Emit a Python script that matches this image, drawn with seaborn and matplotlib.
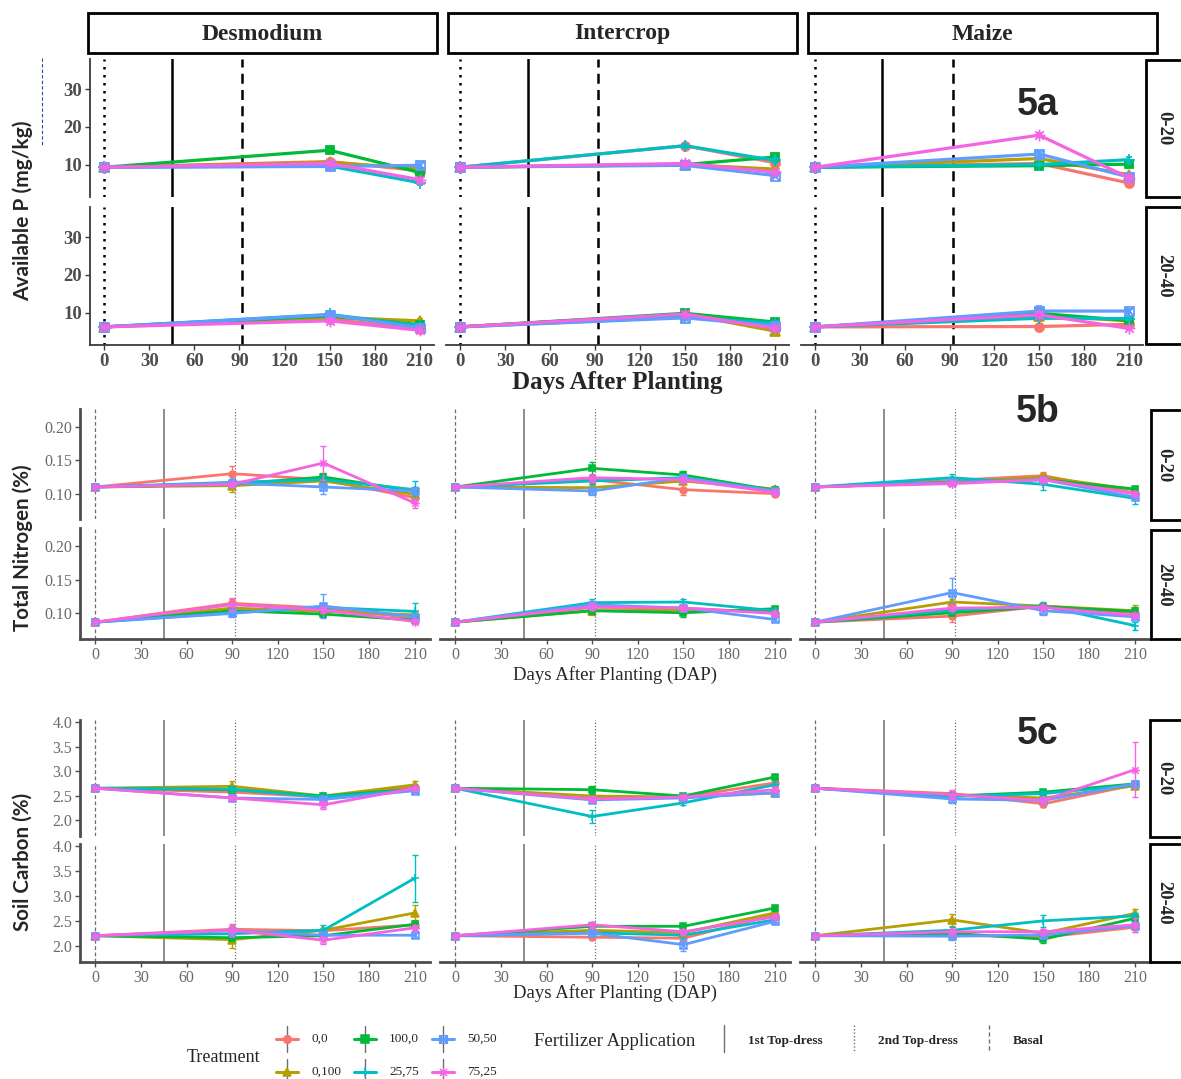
import matplotlib
matplotlib.use("Agg")
import matplotlib.pyplot as plt
import pandas as pd
import seaborn as sns
from matplotlib.path import Path
from matplotlib.patches import Rectangle
from matplotlib.lines import Line2D

sns.set_style("ticks")
plt.rcParams["font.family"] = ["Liberation Serif", "DejaVu Serif"]

W, H = 1181, 1079

# ---------------------------------------------------------------- data
TREATMENTS = ["0,0", "0,100", "100,0", "25,75", "50,50", "75,25"]
SYSTEMS = ["Desmodium", "Intercrop", "Maize"]
DEPTHS = ["0-20", "20-40"]
DAYS_P = [0, 150, 210]
DAYS_NC = [0, 90, 150, 210]

# Available P (mg/kg); one row per treatment, one column per sampling day
p_desmodium_0_20 = [[9.3, 10.8, 8.4], [9.3, 10.6, 8.9], [9.3, 13.8, 7.9],
                    [9.3, 9.6, 5.2], [9.3, 9.5, 9.8], [9.3, 10.3, 6.0]]
p_desmodium_20_40 = [[6.2, 8.3, 5.7], [6.2, 8.8, 7.8], [6.2, 9.1, 6.8],
                     [6.2, 9.5, 6.5], [6.2, 9.4, 6.0], [6.2, 7.8, 5.3]]
p_intercrop_0_20 = [[9.3, 15.0, 10.5], [9.3, 10.0, 8.8], [9.3, 10.0, 12.0],
                    [9.3, 15.0, 11.1], [9.3, 9.8, 7.1], [9.3, 10.3, 8.0]]
p_intercrop_20_40 = [[6.2, 9.5, 5.6], [6.2, 9.6, 5.1], [6.2, 9.8, 7.5],
                     [6.2, 8.8, 7.2], [6.2, 8.6, 6.5], [6.2, 9.6, 5.8]]
p_maize_0_20 = [[9.3, 10.3, 5.1], [9.3, 11.6, 7.3], [9.3, 9.7, 10.1],
                [9.3, 10.0, 11.3], [9.3, 12.8, 6.7], [9.3, 17.8, 6.5]]
p_maize_20_40 = [[6.2, 6.3, 6.9], [6.2, 9.2, 7.8], [6.2, 9.8, 7.9],
                 [6.2, 8.5, 8.4], [6.2, 10.4, 10.4], [6.2, 9.4, 5.8]]

p_desmodium_0_20_se = [[0.3, 0.5, 0.5], [0.3, 0.4, 0.4], [0.3, 0.6, 0.5],
                       [0.3, 0.4, 0.6], [0.3, 0.6, 0.9], [0.3, 0.4, 0.5]]
p_desmodium_20_40_se = [[0.2, 0.4, 0.4], [0.2, 0.4, 0.6], [0.2, 0.5, 0.4],
                        [0.2, 0.6, 0.5], [0.2, 0.5, 0.4], [0.2, 0.6, 0.4]]
p_intercrop_0_20_se = [[0.3, 0.6, 0.5], [0.3, 0.4, 0.4], [0.3, 0.4, 0.6],
                       [0.3, 0.5, 0.6], [0.3, 0.6, 0.5], [0.3, 0.5, 0.4]]
p_intercrop_20_40_se = [[0.2, 0.5, 0.4], [0.2, 0.4, 0.4], [0.2, 0.5, 0.5],
                        [0.2, 0.5, 0.5], [0.2, 0.6, 0.4], [0.2, 0.5, 0.4]]
p_maize_0_20_se = [[0.3, 0.4, 0.4], [0.3, 0.5, 0.5], [0.3, 0.5, 0.5],
                   [0.3, 0.4, 0.8], [0.3, 0.7, 0.5], [0.3, 0.5, 0.5]]
p_maize_20_40_se = [[0.2, 0.4, 0.4], [0.2, 0.5, 0.5], [0.2, 0.5, 0.5],
                    [0.2, 0.6, 0.5], [0.2, 1.4, 0.6], [0.2, 0.7, 0.5]]

# Total nitrogen (%)
n_desmodium_0_20 = [[0.110, 0.130, 0.121, 0.094], [0.110, 0.112, 0.119, 0.099],
                    [0.110, 0.114, 0.125, 0.104], [0.110, 0.117, 0.121, 0.106],
                    [0.110, 0.116, 0.110, 0.104], [0.110, 0.114, 0.146, 0.086]]
n_desmodium_20_40 = [[0.087, 0.115, 0.108, 0.093], [0.087, 0.108, 0.103, 0.098],
                     [0.087, 0.104, 0.099, 0.090], [0.087, 0.101, 0.109, 0.103],
                     [0.087, 0.100, 0.111, 0.095], [0.087, 0.113, 0.105, 0.088]]
n_intercrop_0_20 = [[0.110, 0.121, 0.106, 0.100], [0.110, 0.109, 0.119, 0.107],
                    [0.110, 0.138, 0.128, 0.105], [0.110, 0.119, 0.124, 0.104],
                    [0.110, 0.104, 0.124, 0.104], [0.110, 0.124, 0.121, 0.102]]
n_intercrop_20_40 = [[0.087, 0.109, 0.108, 0.101], [0.087, 0.104, 0.105, 0.104],
                     [0.087, 0.104, 0.101, 0.107], [0.087, 0.116, 0.117, 0.104],
                     [0.087, 0.113, 0.108, 0.091], [0.087, 0.110, 0.108, 0.100]]
n_maize_0_20 = [[0.110, 0.120, 0.127, 0.101], [0.110, 0.117, 0.125, 0.106],
                [0.110, 0.117, 0.121, 0.107], [0.110, 0.124, 0.114, 0.093],
                [0.110, 0.117, 0.121, 0.095], [0.110, 0.115, 0.121, 0.100]]
n_maize_20_40 = [[0.087, 0.096, 0.111, 0.101], [0.087, 0.117, 0.111, 0.104],
                 [0.087, 0.101, 0.110, 0.103], [0.087, 0.105, 0.111, 0.082],
                 [0.087, 0.131, 0.104, 0.095], [0.087, 0.108, 0.109, 0.097]]

n_desmodium_0_20_se = [[.002, .012, .006, .004], [.002, .010, .004, .004],
                       [.002, .004, .006, .006], [.002, .004, .005, .013],
                       [.002, .006, .010, .005], [.002, .004, .025, .008]]
n_desmodium_20_40_se = [[.002, .006, .004, .004], [.002, .005, .004, .004],
                        [.002, .004, .004, .004], [.002, .004, .006, .013],
                        [.002, .006, .018, .004], [.002, .010, .004, .004]]
n_intercrop_0_20_se = [[.002, .005, .008, .004], [.002, .004, .004, .004],
                       [.002, .010, .006, .004], [.002, .005, .006, .004],
                       [.002, .006, .005, .004], [.002, .005, .004, .004]]
n_intercrop_20_40_se = [[.002, .006, .004, .004], [.002, .006, .004, .004],
                        [.002, .005, .006, .004], [.002, .005, .005, .004],
                        [.002, .006, .005, .004], [.002, .005, .004, .004]]
n_maize_0_20_se = [[.002, .004, .005, .004], [.002, .004, .004, .004],
                   [.002, .004, .004, .004], [.002, .006, .008, .008],
                   [.002, .004, .004, .004], [.002, .004, .004, .004]]
n_maize_20_40_se = [[.002, .008, .004, .004], [.002, .004, .004, .008],
                    [.002, .004, .004, .006], [.002, .004, .006, .006],
                    [.002, .022, .006, .004], [.002, .004, .004, .004]]

# Soil carbon (%)
c_desmodium_0_20 = [[2.65, 2.57, 2.47, 2.67], [2.65, 2.69, 2.49, 2.72],
                    [2.65, 2.62, 2.49, 2.63], [2.65, 2.63, 2.47, 2.62],
                    [2.65, 2.45, 2.42, 2.60], [2.65, 2.45, 2.31, 2.65]]
c_desmodium_20_40 = [[2.20, 2.33, 2.30, 2.42], [2.20, 2.12, 2.31, 2.66],
                     [2.20, 2.16, 2.20, 2.43], [2.20, 2.24, 2.31, 3.36],
                     [2.20, 2.30, 2.21, 2.21], [2.20, 2.31, 2.11, 2.36]]
c_intercrop_0_20 = [[2.65, 2.45, 2.47, 2.76], [2.65, 2.49, 2.47, 2.55],
                    [2.65, 2.62, 2.49, 2.88], [2.65, 2.07, 2.35, 2.72],
                    [2.65, 2.41, 2.45, 2.56], [2.65, 2.43, 2.47, 2.62]]
c_intercrop_20_40 = [[2.20, 2.17, 2.15, 2.62], [2.20, 2.31, 2.26, 2.66],
                     [2.20, 2.39, 2.39, 2.76], [2.20, 2.26, 2.21, 2.52],
                     [2.20, 2.25, 2.02, 2.49], [2.20, 2.42, 2.28, 2.58]]
c_maize_0_20 = [[2.65, 2.54, 2.33, 2.72], [2.65, 2.52, 2.45, 2.70],
                [2.65, 2.49, 2.57, 2.74], [2.65, 2.48, 2.54, 2.72],
                [2.65, 2.43, 2.40, 2.74], [2.65, 2.52, 2.40, 3.03]]
c_maize_20_40 = [[2.20, 2.21, 2.17, 2.37], [2.20, 2.52, 2.25, 2.65],
                 [2.20, 2.25, 2.13, 2.55], [2.20, 2.31, 2.50, 2.60],
                 [2.20, 2.19, 2.22, 2.40], [2.20, 2.28, 2.28, 2.42]]

c_desmodium_0_20_se = [[.03, .06, .04, .05], [.03, .10, .04, .08], [.03, .05, .06, .05],
                       [.03, .05, .05, .05], [.03, .06, .04, .05], [.03, .05, .08, .05]]
c_desmodium_20_40_se = [[.02, .08, .06, .05], [.02, .16, .05, .15], [.02, .06, .05, .05],
                        [.02, .06, .10, .47], [.02, .08, .06, .06], [.02, .12, .07, .05]]
c_intercrop_0_20_se = [[.03, .06, .05, .06], [.03, .05, .04, .05], [.03, .08, .05, .05],
                       [.03, .14, .05, .05], [.03, .06, .05, .05], [.03, .06, .05, .05]]
c_intercrop_20_40_se = [[.02, .06, .06, .05], [.02, .06, .06, .05], [.02, .08, .06, .06],
                        [.02, .06, .06, .05], [.02, .06, .12, .06], [.02, .06, .06, .05]]
c_maize_0_20_se = [[.03, .05, .06, .05], [.03, .05, .05, .05], [.03, .05, .05, .05],
                   [.03, .05, .05, .05], [.03, .08, .05, .05], [.03, .10, .06, .56]]
c_maize_20_40_se = [[.02, .05, .06, .10], [.02, .12, .06, .08], [.02, .05, .08, .06],
                    [.02, .06, .12, .06], [.02, .08, .05, .06], [.02, .05, .05, .14]]

PALETTE = {"0,0": "#F8766D", "0,100": "#B79F00", "100,0": "#00BA38",
           "25,75": "#00BFC4", "50,50": "#619CFF", "75,25": "#F564E3"}

# open square with both diagonals, and an eight-armed asterisk
SQUARE_CROSS = Path(
    [(-1, -1), (1, -1), (1, 1), (-1, 1), (-1, -1), (-1, -1), (1, 1), (-1, 1), (1, -1)],
    [Path.MOVETO, Path.LINETO, Path.LINETO, Path.LINETO, Path.CLOSEPOLY,
     Path.MOVETO, Path.LINETO, Path.MOVETO, Path.LINETO])
ASTERISK = Path(
    [(-1, 0), (1, 0), (0, -1), (0, 1), (-0.72, -0.72), (0.72, 0.72), (-0.72, 0.72), (0.72, -0.72)],
    [Path.MOVETO, Path.LINETO] * 4)
MARKERS = {"0,0": "o", "0,100": "^", "100,0": "s", "25,75": "+",
           "50,50": SQUARE_CROSS, "75,25": ASTERISK}
FILLED = {"0,0": True, "0,100": True, "100,0": True,
          "25,75": False, "50,50": False, "75,25": False}
SIZE_SCALE = {"0,0": 1.0, "0,100": 1.05, "100,0": 0.95,
              "25,75": 1.25, "50,50": 1.0, "75,25": 1.3}


def long_frame(days, tables):
    rows = []
    for (system, depth), (means, errs) in tables.items():
        for trt, m_row, e_row in zip(TREATMENTS, means, errs):
            for d, m, e in zip(days, m_row, e_row):
                rows.append(dict(system=system, depth=depth, treatment=trt,
                                 day=d, value=m, err=e))
    return pd.DataFrame(rows)


phos = long_frame(DAYS_P, {
    ("Desmodium", "0-20"): (p_desmodium_0_20, p_desmodium_0_20_se),
    ("Desmodium", "20-40"): (p_desmodium_20_40, p_desmodium_20_40_se),
    ("Intercrop", "0-20"): (p_intercrop_0_20, p_intercrop_0_20_se),
    ("Intercrop", "20-40"): (p_intercrop_20_40, p_intercrop_20_40_se),
    ("Maize", "0-20"): (p_maize_0_20, p_maize_0_20_se),
    ("Maize", "20-40"): (p_maize_20_40, p_maize_20_40_se)})
nitro = long_frame(DAYS_NC, {
    ("Desmodium", "0-20"): (n_desmodium_0_20, n_desmodium_0_20_se),
    ("Desmodium", "20-40"): (n_desmodium_20_40, n_desmodium_20_40_se),
    ("Intercrop", "0-20"): (n_intercrop_0_20, n_intercrop_0_20_se),
    ("Intercrop", "20-40"): (n_intercrop_20_40, n_intercrop_20_40_se),
    ("Maize", "0-20"): (n_maize_0_20, n_maize_0_20_se),
    ("Maize", "20-40"): (n_maize_20_40, n_maize_20_40_se)})
carbon = long_frame(DAYS_NC, {
    ("Desmodium", "0-20"): (c_desmodium_0_20, c_desmodium_0_20_se),
    ("Desmodium", "20-40"): (c_desmodium_20_40, c_desmodium_20_40_se),
    ("Intercrop", "0-20"): (c_intercrop_0_20, c_intercrop_0_20_se),
    ("Intercrop", "20-40"): (c_intercrop_20_40, c_intercrop_20_40_se),
    ("Maize", "0-20"): (c_maize_0_20, c_maize_0_20_se),
    ("Maize", "20-40"): (c_maize_20_40, c_maize_20_40_se)})

# ---------------------------------------------------------------- layout helpers
fig = plt.figure(figsize=(W / 100, H / 100), dpi=100)
fig.patch.set_facecolor("white")


def px_axes(l, t, r, b):
    return fig.add_axes([l / W, 1 - b / H, (r - l) / W, (b - t) / H])


def fig_text(x, y, s, **kw):
    fig.text(x / W, 1 - y / H, s, **kw)


def fig_box(l, t, r, b, lw=2.0):
    fig.add_artist(Rectangle((l / W, 1 - b / H), (r - l) / W, (b - t) / H,
                             transform=fig.transFigure, facecolor="white",
                             edgecolor="black", linewidth=lw, clip_on=False))


def fig_line(xs, ys, **kw):
    fig.add_artist(Line2D([x / W for x in xs], [1 - y / H for y in ys],
                          transform=fig.transFigure, **kw))


STYLE_A = dict(lw=2.3, ms=6.5, mew=1.3, elw=1.3, cap=2.5,
               spine="#3a3a3a", spine_w=1.3, tick_c="#4d4d4d", tick_size=13.5,
               tick_weight="bold",
               vlines=[(0, "black", 1.8, (0, (1, 2.2))),
                       (45, "black", 1.8, "-"),
                       (92, "black", 1.8, (0, (4, 2.5)))])
STYLE_BC = dict(lw=2.0, ms=5.0, mew=1.1, elw=1.0, cap=2.2,
                spine="#4d4d4d", spine_w=2.0, tick_c="#6a6a6a", tick_size=11.5,
                tick_weight="normal",
                vlines=[(0, "#6e6e6e", 0.9, (0, (3, 2))),
                        (45, "#6e6e6e", 1.1, "-"),
                        (92, "#6e6e6e", 0.9, (0, (1, 1.5)))])

PANELS = [
    dict(frame=phos, style=STYLE_A,
         cols=[(90, 434), (446, 789), (801, 1143)],
         rows=[(59, 197), (207, 345)],
         xlim=(-9.5, 219.5), ylim=(1.4, 38.0), yticks=[10, 20, 30], yfmt="{:.0f}"),
    dict(frame=nitro, style=STYLE_BC,
         cols=[(80, 430), (440, 790), (800, 1150)],
         rows=[(409, 519), (528, 639)],
         xlim=(-10, 220), ylim=(0.062, 0.227), yticks=[0.10, 0.15, 0.20], yfmt="{:.2f}"),
    dict(frame=carbon, style=STYLE_BC,
         cols=[(80, 430), (440, 790), (800, 1150)],
         rows=[(720, 836), (844, 962)],
         xlim=(-10, 220), ylim=(1.67, 4.05), yticks=[2.0, 2.5, 3.0, 3.5, 4.0], yfmt="{:.1f}"),
]


def draw_facet(ax, sub, st):
    for x, c, lw, ls in st["vlines"]:
        ax.axvline(x, color=c, linewidth=lw, linestyle=ls, zorder=1)
    for trt in TREATMENTS:
        d = sub[sub["treatment"] == trt]
        col = PALETTE[trt]
        sns.lineplot(data=d, x="day", y="value", ax=ax, color=col,
                     linewidth=st["lw"], marker=MARKERS[trt],
                     markersize=st["ms"] * SIZE_SCALE[trt],
                     markeredgecolor=col,
                     markerfacecolor=col if FILLED[trt] else "none",
                     markeredgewidth=st["mew"], estimator=None, errorbar=None,
                     legend=False, zorder=3)
        ax.errorbar(d["day"], d["value"], yerr=d["err"], fmt="none", ecolor=col,
                    elinewidth=st["elw"], capsize=st["cap"], capthick=st["elw"],
                    zorder=3)


for panel in PANELS:
    st = panel["style"]
    for ri, (top, bot) in enumerate(panel["rows"]):
        for ci, (left, right) in enumerate(panel["cols"]):
            ax = px_axes(left, top, right, bot)
            ax.set_facecolor("none")
            sub = panel["frame"]
            sub = sub[(sub["system"] == SYSTEMS[ci]) & (sub["depth"] == DEPTHS[ri])]
            draw_facet(ax, sub, st)
            ax.set_xlim(*panel["xlim"])
            ax.set_ylim(*panel["ylim"])
            ax.set_xlabel("")
            ax.set_ylabel("")
            ax.set_xticks([0, 30, 60, 90, 120, 150, 180, 210])
            ax.set_yticks(panel["yticks"])
            ax.set_yticklabels([panel["yfmt"].format(v) for v in panel["yticks"]])
            for s in ("top", "right"):
                ax.spines[s].set_visible(False)
            for s in ("left", "bottom"):
                ax.spines[s].set_color(st["spine"])
                ax.spines[s].set_linewidth(st["spine_w"])
            ax.tick_params(colors=st["spine"], labelcolor=st["tick_c"],
                           labelsize=st["tick_size"], length=3.5, width=1.0, pad=2)
            for lab in ax.get_xticklabels() + ax.get_yticklabels():
                lab.set_fontweight(st["tick_weight"])
            if ci > 0:
                ax.spines["left"].set_visible(False)
                ax.tick_params(axis="y", left=False, labelleft=False)
            if ri == 0:
                ax.spines["bottom"].set_visible(False)
                ax.tick_params(axis="x", bottom=False, labelbottom=False)

# ---------------------------------------------------------------- strips
for l, r, name in [(88, 437, "Desmodium"), (448, 797, "Intercrop"), (808, 1157, "Maize")]:
    fig_box(l, 13, r, 53)
    fig_text((l + r) / 2, 34, name, ha="center", va="center",
             fontsize=17, fontweight="bold")

depth_strips = [(1146, [(60, 197), (207, 344)]),
                (1151, [(410, 520), (530, 639)]),
                (1150, [(720, 837), (844, 962)])]
for left, spans in depth_strips:
    for (t, b), name in zip(spans, DEPTHS):
        fig_box(left, t, 1200, b)
        fig_text(1164, (t + b) / 2, name, ha="center", va="center", rotation=-90,
                 fontsize=13.5, fontweight="bold")

# ---------------------------------------------------------------- axis titles
fig_text(617, 383, "Days After Planting", ha="center", va="center",
         fontsize=18, fontweight="bold")
fig_text(615, 675, "Days After Planting (DAP)", ha="center", va="center", fontsize=13.5)
fig_text(615, 993, "Days After Planting (DAP)", ha="center", va="center", fontsize=13.5)

sans_bold = dict(family=["Lato", "DejaVu Sans"], fontweight="bold",
                 rotation=90, ha="center", va="center")
fig_text(23, 211, "Available P (mg/kg)", fontsize=15, **sans_bold)
fig_text(23, 548, "Total Nitrogen (%)", fontsize=14.8, **sans_bold)
fig_text(23, 862, "Soil Carbon (%)", fontsize=14.8, **sans_bold)
fig_line([42, 42], [58, 145], color="#2b4a9b", linewidth=0.8, linestyle=(0, (3, 2)))

for y, tag in [(105, "5a"), (412, "5b"), (734, "5c")]:
    fig_text(1038, y, tag, ha="center", va="center", fontsize=27,
             fontweight="bold", family=["Liberation Sans", "DejaVu Sans"])

# ---------------------------------------------------------------- legend
leg = px_axes(0, 1010, W, H)
leg.set_xlim(0, W)
leg.set_ylim(H, 1010)
leg.axis("off")
leg.text(187, 1057, "Treatment", ha="left", va="center", fontsize=13)
key_cols = [287, 365, 443]
key_rows = [1039, 1072]
for i, trt in enumerate(TREATMENTS):
    kx, ky = key_cols[i // 2], key_rows[i % 2]
    col = PALETTE[trt]
    leg.plot([kx, kx], [ky - 13, ky + 13], color="#6e6e6e", linewidth=1.0)
    leg.plot([kx - 11, kx + 11], [ky, ky], color=col, linewidth=2.2)
    leg.plot([kx], [ky], marker=MARKERS[trt], markersize=5.5 * SIZE_SCALE[trt],
             color=col, markeredgecolor=col,
             markerfacecolor=col if FILLED[trt] else "none", markeredgewidth=1.1)
    leg.text(kx + 24, ky, trt, ha="left", va="center", fontsize=9.5)

leg.text(534, 1041, "Fertilizer Application", ha="left", va="center", fontsize=13.5)
fert_keys = [(724, "1st Top-dress", "-"), (854, "2nd Top-dress", (0, (1, 1.5))),
             (989, "Basal", (0, (3, 2)))]
for x, name, ls in fert_keys:
    leg.plot([x, x], [1025, 1052], color="#6e6e6e", linewidth=1.0, linestyle=ls)
    leg.text(x + 24, 1041, name, ha="left", va="center", fontsize=9.5,
             fontweight="bold")

fig.savefig("out.png", dpi=100, facecolor="white")
